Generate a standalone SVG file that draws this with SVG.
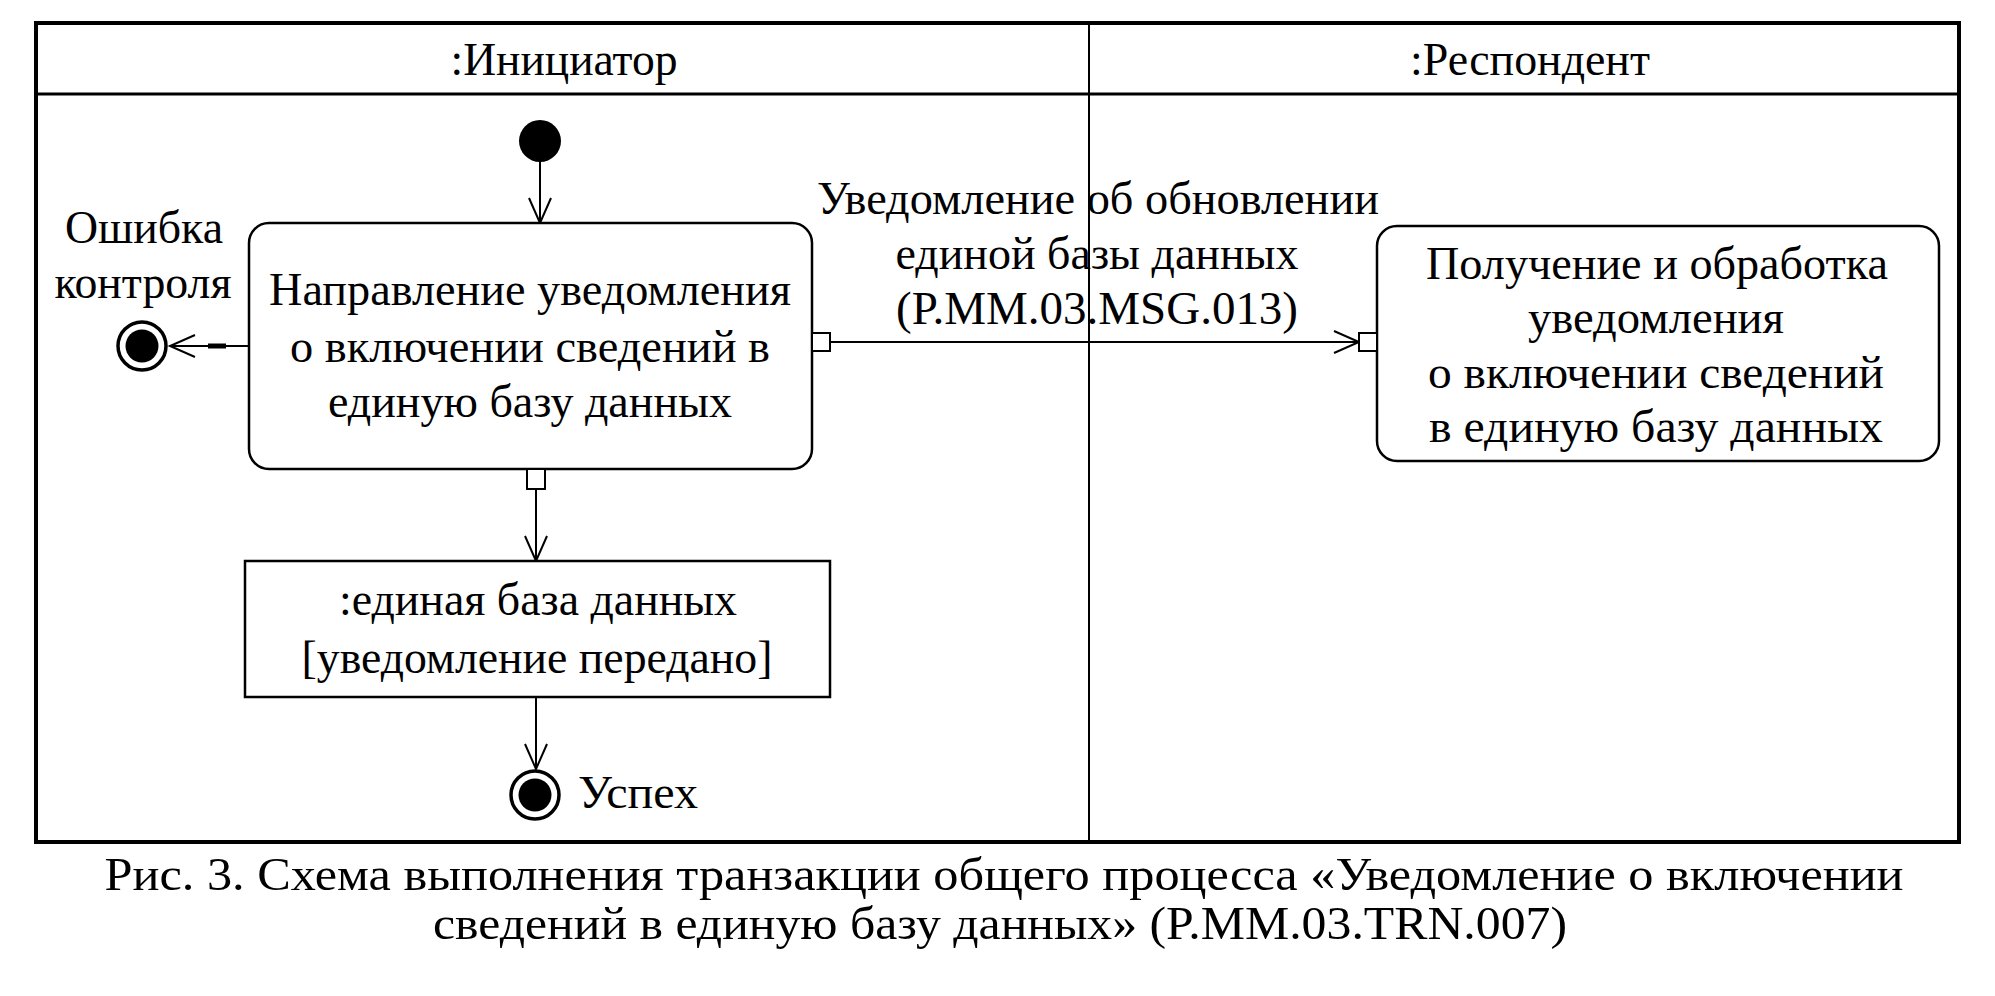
<svg xmlns="http://www.w3.org/2000/svg" width="1995" height="996" viewBox="0 0 1995 996">
<style>
text{font-family:"Liberation Serif","Times New Roman",serif;font-size:47px;fill:#000;text-anchor:middle}
.box{fill:#fff;stroke:#000;stroke-width:2.5}
.edge{fill:none;stroke:#000;stroke-width:2}
.pin{fill:#fff;stroke:#000;stroke-width:2}
</style>
<defs>
<marker id="open" markerUnits="userSpaceOnUse" markerWidth="30" markerHeight="30" viewBox="-2 -15 30 30" refX="25" refY="0" orient="auto">
<path d="M0,-11 L25,0 L0,11" fill="none" stroke="#000" stroke-width="2"/>
</marker>
</defs>
<rect width="1995" height="996" fill="#fff"/>
<g id="frame">
<rect x="36" y="23" width="1923" height="819" fill="none" stroke="#000" stroke-width="4"/>
<line x1="36" y1="94" x2="1959" y2="94" stroke="#000" stroke-width="3"/>
<line x1="1089" y1="23" x2="1089" y2="842" stroke="#000" stroke-width="2"/>
<text x="564" y="75" textLength="227" lengthAdjust="spacingAndGlyphs">:Инициатор</text>
<text x="1530" y="75" textLength="240" lengthAdjust="spacingAndGlyphs">:Респондент</text>
</g>
<g id="connectors">
<line class="edge" x1="540" y1="162" x2="540" y2="223" marker-end="url(#open)"/>
<line class="edge" x1="249" y1="346" x2="170" y2="346" marker-end="url(#open)"/>
<line x1="208" y1="346" x2="226" y2="346" stroke="#000" stroke-width="5"/>
<line class="edge" x1="830" y1="342" x2="1359" y2="342" marker-end="url(#open)"/>
<line class="edge" x1="536" y1="489" x2="536" y2="561" marker-end="url(#open)"/>
<line class="edge" x1="536" y1="697" x2="536" y2="769" marker-end="url(#open)"/>
<g id="msg-label">
<text x="1098" y="214" textLength="562" lengthAdjust="spacingAndGlyphs">Уведомление об обновлении</text>
<text x="1097" y="269" textLength="403" lengthAdjust="spacingAndGlyphs">единой базы данных</text>
<text x="1097" y="324" textLength="402" lengthAdjust="spacingAndGlyphs">(P.MM.03.MSG.013)</text>
</g>
</g>
<g id="initial">
<circle cx="540" cy="141" r="21" fill="#000"/>
</g>
<g id="action1">
<rect class="box" x="249" y="223" width="563" height="246" rx="20"/>
<text x="530" y="305" textLength="522" lengthAdjust="spacingAndGlyphs">Направление уведомления</text>
<text x="530" y="362" textLength="480" lengthAdjust="spacingAndGlyphs">о включении сведений в</text>
<text x="530" y="417" textLength="404" lengthAdjust="spacingAndGlyphs">единую базу данных</text>
<rect class="pin" x="812" y="333" width="18" height="18"/>
<rect class="pin" x="527" y="469" width="18" height="20"/>
</g>
<g id="error-end">
<circle cx="142" cy="346" r="24" fill="#fff" stroke="#000" stroke-width="3.5"/>
<circle cx="142" cy="346" r="16.5" fill="#000"/>
<text x="144" y="243" textLength="158" lengthAdjust="spacingAndGlyphs">Ошибка</text>
<text x="143" y="298" textLength="177" lengthAdjust="spacingAndGlyphs">контроля</text>
</g>
<g id="object">
<rect class="box" x="245" y="561" width="585" height="136"/>
<text x="538" y="615" textLength="398" lengthAdjust="spacingAndGlyphs">:единая база данных</text>
<text x="537" y="673" textLength="471" lengthAdjust="spacingAndGlyphs">[уведомление передано]</text>
</g>
<g id="success-end">
<circle cx="535" cy="795" r="24" fill="#fff" stroke="#000" stroke-width="3.5"/>
<circle cx="535" cy="795" r="16.5" fill="#000"/>
<text x="638" y="808" textLength="120" lengthAdjust="spacingAndGlyphs">Успех</text>
</g>
<g id="action2">
<rect class="box" x="1377" y="226" width="562" height="235" rx="20"/>
<rect class="pin" x="1359" y="333" width="18" height="18"/>
<text x="1657" y="279" textLength="462" lengthAdjust="spacingAndGlyphs">Получение и обработка</text>
<text x="1656" y="333" textLength="256" lengthAdjust="spacingAndGlyphs">уведомления</text>
<text x="1656" y="388" textLength="456" lengthAdjust="spacingAndGlyphs">о включении сведений</text>
<text x="1656" y="442" textLength="454" lengthAdjust="spacingAndGlyphs">в единую базу данных</text>
</g>
<g id="caption">
<text x="1004" y="890" textLength="1799" lengthAdjust="spacingAndGlyphs">Рис. 3. Схема выполнения транзакции общего процесса «Уведомление о включении</text>
<text x="1000" y="939" textLength="1134" lengthAdjust="spacingAndGlyphs">сведений в единую базу данных» (P.MM.03.TRN.007)</text>
</g>
</svg>
